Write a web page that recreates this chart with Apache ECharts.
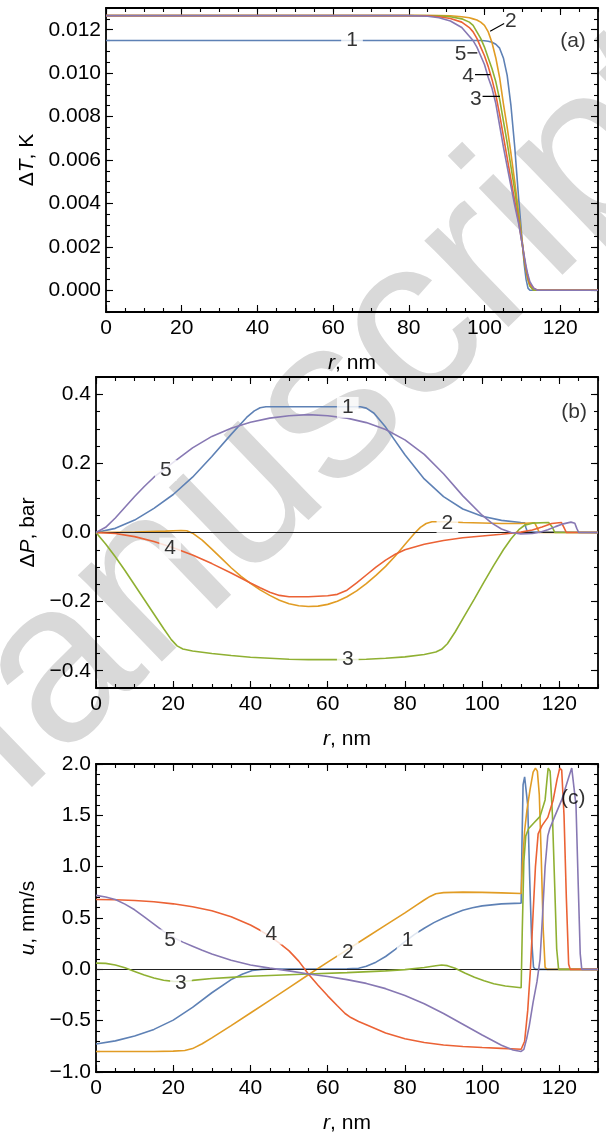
<!DOCTYPE html>
<html><head><meta charset="utf-8">
<script src="https://cdn.jsdelivr.net/npm/echarts@6/dist/echarts.min.js"></script>
<style>html,body{margin:0;padding:0;background:#fff}#c{width:606px;height:1135px}</style>
</head><body><div id="c"></div>
<script>
const FONT = '"Liberation Sans", Arial, Helvetica, sans-serif';
const FS = 21;
const COLORS = ['#5E81B5', '#E19C24', '#8FB032', '#EB6235', '#8778B3'];

// ---------- Panel (a): temperature ----------
const rA = [0, 80, 85, 88, 91, 94, 96, 97, 98, 99, 100, 101, 102, 103, 104, 105, 106, 107, 108, 109, 110, 110.5, 111, 111.5, 112, 113, 114, 130];
const dT1 = [0.0115,0.0115,0.0115,0.0115,0.0115,0.0115,0.0115,0.0115,0.0115,0.0115,0.01149,0.01147,0.01142,0.01133,0.01115,0.0107,0.0099,0.0085,0.0066,0.0043,0.0022,0.0012,0.0005,0.0001,0,0,0,0];
const dT2 = [0.01265,0.01265,0.01265,0.01265,0.01264,0.0126,0.01255,0.0125,0.01245,0.01235,0.0122,0.0119,0.0114,0.0107,0.0098,0.0086,0.0075,0.0063,0.0050,0.0036,0.0022,0.0015,0.0009,0.0005,0.0002,0,0,0];
const dT3 = [0.01265,0.01265,0.01265,0.01264,0.0126,0.0125,0.01235,0.0122,0.0119,0.0116,0.0112,0.0107,0.0102,0.0096,0.0088,0.0078,0.0068,0.0057,0.0046,0.0034,0.0021,0.0014,0.0009,0.0005,0.0002,0,0,0];
const dT4 = [0.01265,0.01265,0.01264,0.0126,0.01252,0.01235,0.0121,0.0119,0.0116,0.0112,0.0108,0.0103,0.0097,0.0090,0.0081,0.0071,0.0061,0.0051,0.0041,0.0032,0.0021,0.0015,0.0010,0.0006,0.0003,0.0001,0,0];
const dT5 = [0.01265,0.01265,0.01262,0.01255,0.0124,0.0121,0.0117,0.0115,0.0112,0.0108,0.0104,0.0098,0.0093,0.0086,0.0076,0.0066,0.0057,0.0048,0.0039,0.0031,0.0021,0.0016,0.0011,0.0007,0.0004,0.0001,0,0];

// ---------- Panel (b): pressure ----------
const rB1 = [0,5,10,15,20,25,30,35,39,41,42.5,44,68.5,70,72,75,80,85,90,95,100,105,110,111,111.3,111.7,112,130];
const pB1 = [0,0.012,0.036,0.07,0.11,0.16,0.22,0.284,0.333,0.352,0.361,0.364,0.364,0.36,0.345,0.305,0.225,0.155,0.104,0.068,0.047,0.035,0.029,0.028,0.015,0.002,0,0];
const rB2 = [0,10,18,22,23.5,25,27.5,30,32.5,35,37.5,40,42.5,45,47.5,50,52.5,55,57.5,60,62.5,65,67.5,70,72.5,75,77.5,80,82.5,84,85.5,87,90,95,105,110,113.6,114.2,114.8,130];
const pB2 = [0,0.001,0.004,0.006,0.005,-0.002,-0.022,-0.048,-0.075,-0.102,-0.126,-0.147,-0.166,-0.182,-0.196,-0.206,-0.212,-0.214,-0.213,-0.208,-0.199,-0.186,-0.169,-0.148,-0.124,-0.098,-0.068,-0.035,-0.002,0.015,0.026,0.031,0.031,0.029,0.026,0.026,0.028,0.015,0,0];
const rB3 = [0,2.5,5,7.5,10,12.5,15,17.5,19.5,21,22.5,25,30,35,40,45,50,55,60,65,70,75,80,85,88,89.5,91,93,95.5,98,100.5,103,105.5,107.5,109.5,111,113,117.2,118.2,118.8,130];
const pB3 = [0,-0.033,-0.07,-0.11,-0.152,-0.194,-0.236,-0.278,-0.31,-0.328,-0.337,-0.343,-0.35,-0.356,-0.361,-0.364,-0.367,-0.368,-0.368,-0.368,-0.367,-0.364,-0.36,-0.353,-0.346,-0.338,-0.322,-0.288,-0.24,-0.192,-0.143,-0.095,-0.05,-0.018,0.008,0.021,0.027,0.029,0.015,0,0];
const rB4 = [0,5,10,15,20,25,30,35,40,42.5,45,47.5,50,55,60,62.5,65,67.5,70,72.5,75,77.5,80,85,90,95,100,105,110,113,115.5,118,120.5,121.2,121.8,130];
const pB4 = [0,-0.003,-0.012,-0.026,-0.044,-0.065,-0.09,-0.117,-0.146,-0.16,-0.173,-0.182,-0.186,-0.186,-0.183,-0.179,-0.167,-0.146,-0.123,-0.1,-0.08,-0.063,-0.05,-0.034,-0.023,-0.015,-0.01,-0.005,0.001,0.007,0.016,0.026,0.029,0.014,0,0];
const rB5 = [0,2.5,5,7.5,10,12.5,15,20,25,30,35,40,45,50,55,60,65,70,75,80,85,90,95,100,102.5,105,107.5,110,113,115,117,119,121,123,124,124.5,125,130];
const pB5 = [0,0.015,0.042,0.073,0.104,0.133,0.16,0.203,0.245,0.278,0.302,0.319,0.331,0.338,0.341,0.338,0.331,0.318,0.298,0.268,0.226,0.17,0.106,0.05,0.027,0.01,0,-0.004,-0.003,0.001,0.008,0.017,0.025,0.03,0.027,0.012,0,0];

// ---------- Panel (c): velocity ----------
const rC1 = [0,5,10,15,20,25,30,35,38,40.5,43,46,65,68,70,72.5,75,77.5,80,82.5,85,87.5,90,92.5,95,97.5,100,105,110.1,110.3,110.6,111.0,111.4,111.8,112.3,112.8,113.3,113.8,130];
const uC1 = [-0.727,-0.697,-0.65,-0.585,-0.495,-0.37,-0.228,-0.1,-0.045,-0.012,0.0,0.003,0.004,0.01,0.03,0.07,0.125,0.195,0.27,0.34,0.4,0.455,0.5,0.54,0.575,0.6,0.618,0.638,0.645,1.2,1.8,1.875,1.86,1.6,0.9,0.3,0.02,0,0];
const rC2 = [0,15,20,23,25,27.5,30,35,40,45,50,55,60,65,70,75,80,83,85,86.5,88,90,95,100,105,110.1,110.4,111.0,111.6,112.4,113.2,113.8,114.3,114.8,115.3,115.8,116.3,116.8,130];
const uC2 = [-0.80,-0.80,-0.797,-0.79,-0.772,-0.725,-0.668,-0.548,-0.425,-0.302,-0.178,-0.053,0.07,0.19,0.31,0.43,0.55,0.625,0.675,0.71,0.737,0.747,0.752,0.75,0.745,0.738,1.0,1.35,1.55,1.75,1.92,1.96,1.93,1.7,1.1,0.4,0.02,0,0];
const rC3 = [0,2.5,5,7.5,10,12.5,15,17.5,20,22.5,25,30,35,40,45,55,65,75,80,85,88,89.5,91,93,95.5,98,100.5,103,106,110.1,110.4,110.8,111.3,112,113.5,115,116.3,116.8,117.1,117.6,118.2,118.8,119.3,119.8,130];
const uC3 = [0.06,0.058,0.043,0.015,-0.02,-0.055,-0.085,-0.106,-0.117,-0.118,-0.108,-0.09,-0.078,-0.068,-0.06,-0.045,-0.032,-0.015,-0.003,0.018,0.035,0.042,0.036,0.01,-0.035,-0.078,-0.112,-0.14,-0.163,-0.18,0.4,1.05,1.3,1.37,1.43,1.49,1.65,1.85,1.96,1.93,1.5,0.8,0.2,0,0];
const rC4 = [0,5,10,15,20,25,30,35,40,42.5,45,47.5,50,52.5,55,57.5,60,62.5,64.5,66,68,70,75,80,85,90,95,100,105,110.1,111,111.8,112.5,113.2,113.8,114.5,115.5,117,118.4,119.4,120.1,120.6,121.2,121.8,122.4,122.8,130];
const uC4 = [0.68,0.678,0.671,0.658,0.638,0.61,0.57,0.512,0.432,0.38,0.322,0.255,0.18,0.08,-0.045,-0.155,-0.258,-0.355,-0.43,-0.47,-0.508,-0.54,-0.62,-0.676,-0.713,-0.737,-0.752,-0.762,-0.77,-0.778,-0.7,-0.4,0.0,0.55,1.0,1.32,1.4,1.48,1.65,1.85,1.96,1.94,1.5,0.7,0.05,0,0];
const rC5 = [0,2.5,5,7.5,10,12.5,15,17.5,20,22.5,25,27.5,30,35,40,45,50,55,60,65,70,75,80,85,90,95,100,105,108,110.1,110.8,111.5,112.2,113.2,114.2,115,115.6,116.3,117,117.5,118.8,120.6,122.5,123.2,123.7,124.3,124.9,125.4,125.8,130];
const uC5 = [0.72,0.705,0.68,0.635,0.58,0.51,0.44,0.37,0.31,0.265,0.225,0.185,0.15,0.088,0.042,0.012,-0.015,-0.045,-0.07,-0.1,-0.137,-0.188,-0.255,-0.335,-0.43,-0.535,-0.64,-0.74,-0.785,-0.80,-0.78,-0.68,-0.55,-0.32,-0.12,0.1,0.5,1.0,1.3,1.37,1.49,1.65,1.88,1.96,1.95,1.6,0.8,0.15,0,0];

// ---------- tick labels ----------
const xTicks = [0, 20, 40, 60, 80, 100, 120];
const yTicksA = [0, 0.002, 0.004, 0.006, 0.008, 0.010, 0.012];
const yTicksB = [-0.4, -0.2, 0, 0.2, 0.4];
const yTicksC = [-1, -0.5, 0, 0.5, 1, 1.5, 2];

// ---------- curve labels ----------
const labA_r = [65, 107, 97.7, 95.7, 93.7, 123.4];
const labA_v = [0.0115, 0.01238, 0.00881, 0.00985, 0.01085, 0.01147];
const labA_t = ['1', '2', '3', '4', '5', '(a)'];
const labA_bg = [true, false, false, false, false, false];
const leadA = [
  [[101.5, 0.01193], [105.2, 0.01229]],
  [[99.5, 0.00893], [104.1, 0.00893]],
  [[97.5, 0.00993], [101.5, 0.00993]],
  [[95.5, 0.01093], [98.1, 0.01093]]
];
const labB_r = [65.2, 91, 65.2, 19.2, 18.1, 123.8];
const labB_v = [0.362, 0.028, -0.368, -0.045, 0.18, 0.348];
const labB_t = ['1', '2', '3', '4', '5', '(b)'];
const labB_bg = [true, true, true, true, true, false];
const labC_r = [80.7, 65.2, 22, 45.4, 19.2, 123.6];
const labC_v = [0.286, 0.164, -0.132, 0.344, 0.286, 1.67];
const labC_t = ['1', '2', '3', '4', '5', '(c)'];
const labC_bg = [true, true, true, true, true, false];

// ---------- build ----------
const zip = (xs, ys) => xs.map((x, i) => [x, ys[i]]);
const lineSt = {color: '#000', width: 1.8};
const tickSt = {color: '#000', width: 1.1};
const rich = {i: {fontStyle: 'italic', fontSize: FS, fontFamily: FONT, color: '#000'}};

function xAxes(gi, name) {
  const c = {type: 'value', gridIndex: gi, min: 0, max: 130, interval: 5, splitLine: {show: false}};
  return [
    Object.assign({}, c, {position: 'bottom', axisLine: {onZero: false, lineStyle: lineSt},
      axisTick: {inside: true, length: 7, customValues: xTicks, lineStyle: tickSt},
      axisLabel: {customValues: xTicks, color: '#000', fontSize: FS, fontFamily: FONT, margin: 6},
      name: name, nameLocation: 'middle', nameGap: 41,
      nameTextStyle: {color: '#000', fontSize: FS, fontFamily: FONT, rich: rich}}),
    Object.assign({}, c, {position: 'bottom', axisLine: {show: false, onZero: false},
      axisTick: {inside: true, length: 4, lineStyle: tickSt}, axisLabel: {show: false}}),
    Object.assign({}, c, {position: 'top', axisLine: {onZero: false, lineStyle: lineSt},
      axisTick: {inside: true, length: 7, customValues: xTicks, lineStyle: tickSt}, axisLabel: {show: false}}),
    Object.assign({}, c, {position: 'top', axisLine: {show: false, onZero: false},
      axisTick: {inside: true, length: 4, lineStyle: tickSt}, axisLabel: {show: false}})
  ];
}
function yAxes(gi, min, max, step, majors, fmt, name, gap) {
  const c = {type: 'value', gridIndex: gi, min: min, max: max, interval: step, splitLine: {show: false}};
  return [
    Object.assign({}, c, {position: 'left', axisLine: {onZero: false, lineStyle: lineSt},
      axisTick: {inside: true, length: 7, customValues: majors, lineStyle: tickSt},
      axisLabel: {customValues: majors, formatter: fmt, color: '#000', fontSize: FS, fontFamily: FONT, margin: 5},
      name: name, nameLocation: 'middle', nameRotate: 90, nameGap: gap,
      nameTextStyle: {color: '#000', fontSize: FS, fontFamily: FONT, rich: rich}}),
    Object.assign({}, c, {position: 'left', axisLine: {show: false, onZero: false},
      axisTick: {inside: true, length: 4, lineStyle: tickSt}, axisLabel: {show: false}}),
    Object.assign({}, c, {position: 'right', axisLine: {onZero: false, lineStyle: lineSt},
      axisTick: {inside: true, length: 7, customValues: majors, lineStyle: tickSt}, axisLabel: {show: false}}),
    Object.assign({}, c, {position: 'right', axisLine: {show: false, onZero: false},
      axisTick: {inside: true, length: 4, lineStyle: tickSt}, axisLabel: {show: false}})
  ];
}
const minus = s => s.replace('-', '\u2212');
const fmtA = v => minus(v.toFixed(3));
const fmtBC = v => minus((Math.abs(v) < 1e-9 ? 0 : v).toFixed(1));

function curve(gi, xs, ys, k, extra) {
  return Object.assign({type: 'line', xAxisIndex: 4 * gi, yAxisIndex: 4 * gi, data: zip(xs, ys),
    showSymbol: false, symbol: 'none', smooth: false, z: 3 + k,
    lineStyle: {color: COLORS[k], width: 1.6}, itemStyle: {color: COLORS[k]}, silent: true}, extra || {});
}
function labels(gi, rs, vs, ts, bgs) {
  return {type: 'scatter', xAxisIndex: 4 * gi, yAxisIndex: 4 * gi, symbolSize: 1, z: 20, silent: true,
    itemStyle: {color: 'rgba(0,0,0,0)'},
    data: rs.map((r, i) => ({value: [r, vs[i]], label: {show: true, position: 'inside', formatter: ts[i],
      color: '#000', fontSize: FS, fontFamily: FONT,
      backgroundColor: bgs[i] ? '#fff' : 'transparent', padding: bgs[i] ? [0, 5] : 0}}))};
}
const zeroLine = {markLine: {silent: true, symbol: 'none', label: {show: false},
  lineStyle: {color: '#222', width: 1, type: 'solid'}, data: [{yAxis: 0}]}};

const series = [
  curve(0, rA, dT1, 0), curve(0, rA, dT2, 1), curve(0, rA, dT3, 2), curve(0, rA, dT4, 3), curve(0, rA, dT5, 4),
  curve(1, rB1, pB1, 0, zeroLine), curve(1, rB2, pB2, 1), curve(1, rB3, pB3, 2), curve(1, rB4, pB4, 3), curve(1, rB5, pB5, 4),
  curve(2, rC1, uC1, 0, zeroLine), curve(2, rC2, uC2, 1), curve(2, rC3, uC3, 2), curve(2, rC4, uC4, 3), curve(2, rC5, uC5, 4),
  labels(0, labA_r, labA_v, labA_t, labA_bg),
  labels(1, labB_r, labB_v, labB_t, labB_bg),
  labels(2, labC_r, labC_v, labC_t, labC_bg)
];
leadA.forEach(seg => series.push({type: 'line', xAxisIndex: 0, yAxisIndex: 0, data: seg, symbol: 'none',
  z: 20, silent: true, lineStyle: {color: '#000', width: 1.2}}));

const chart = echarts.init(document.getElementById('c'), null, {renderer: 'canvas'});
chart.setOption({
  animation: false,
  backgroundColor: '#fff',
  graphic: [{type: 'text', x: 280, y: 460, rotation: 44 * Math.PI / 180, z: -10, silent: true,
    style: {text: 'Manuscript', fontSize: 228, fontFamily: FONT, fill: '#d9d9d9', align: 'center', verticalAlign: 'middle'}}],
  grid: [
    {left: 106, top: 8, width: 492, height: 304},
    {left: 96, top: 377, width: 502, height: 311},
    {left: 96, top: 764, width: 502, height: 311}
  ],
  xAxis: [].concat(xAxes(0, '{i|r}, nm'), xAxes(1, '{i|r}, nm'), xAxes(2, '{i|r}, nm')),
  yAxis: [].concat(
    yAxes(0, -0.001, 0.013, 0.0005, yTicksA, fmtA, '\u0394{i|T}, K', 67),
    yAxes(1, -0.45, 0.45, 0.05, yTicksB, fmtBC, '\u0394{i|P}, bar', 57),
    yAxes(2, -1, 2, 0.1, yTicksC, fmtBC, '{i|u}, mm/s', 57)
  ),
  series: series
});
</script></body></html>
